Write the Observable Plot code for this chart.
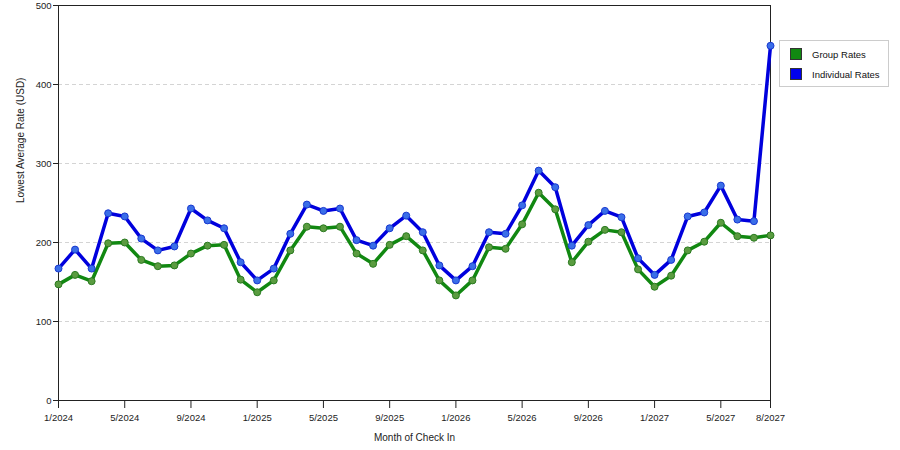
<!DOCTYPE html>
<html><head><meta charset="utf-8">
<script src="https://cdn.jsdelivr.net/npm/d3@7"></script>
<script src="https://cdn.jsdelivr.net/npm/@observablehq/plot@0.6"></script>
<style>
body{margin:0;background:#fff;font-family:"Liberation Sans",Arial,sans-serif;}
#wrap{position:relative;width:900px;height:450px;}
#legend{position:absolute;left:779px;top:40px;width:110px;height:47px;border:1px solid #ccc;background:#fff;font-size:9.5px;box-sizing:border-box;color:#111;}
#legend .item{position:absolute;left:10px;display:flex;align-items:center;}
#legend .sw{width:12px;height:12px;margin-right:10px;border:1px solid #333;box-sizing:border-box;}
</style></head><body>
<div id="wrap"><div id="chart"></div>
<div id="legend">
<div class="item" style="top:7px"><div class="sw" style="background:#118811"></div>Group Rates</div>
<div class="item" style="top:27px"><div class="sw" style="background:#0000ee"></div>Individual Rates</div>
</div></div>
<script>
const months = ["1/2024","2/2024","3/2024","4/2024","5/2024","6/2024","7/2024","8/2024","9/2024","10/2024","11/2024","12/2024",
"1/2025","2/2025","3/2025","4/2025","5/2025","6/2025","7/2025","8/2025","9/2025","10/2025","11/2025","12/2025",
"1/2026","2/2026","3/2026","4/2026","5/2026","6/2026","7/2026","8/2026","9/2026","10/2026","11/2026","12/2026",
"1/2027","2/2027","3/2027","4/2027","5/2027","6/2027","7/2027","8/2027"];
const individualRates = [167,191,167,237,233,205,190,195,243,228,218,175,
152,167,211,248,240,243,203,196,218,234,213,171,
152,170,213,211,247,291,270,196,222,240,232,180,
159,178,233,238,272,229,227,449];
const groupRates = [147,159,151,199,200,178,170,171,186,196,197,153,
137,152,190,220,218,220,186,173,197,208,190,152,
133,152,194,192,223,263,242,175,201,216,213,166,
144,158,190,201,225,208,206,209];
const xTickLabels = ["1/2024","5/2024","9/2024","1/2025","5/2025","9/2025","1/2026","5/2026","9/2026","1/2027","5/2027","8/2027"];
const yTicks = [0,100,200,300,400,500];

const ind = months.map((m,i)=>({i, v: individualRates[i]}));
const grp = months.map((m,i)=>({i, v: groupRates[i]}));
const xTicks = xTickLabels.map(l=>months.indexOf(l));

const chart = Plot.plot({
  width: 900, height: 450,
  marginLeft: 58, marginRight: 130, marginTop: 5, marginBottom: 50,
  style: {fontFamily: '"Liberation Sans", Arial, sans-serif', fontSize: "9.5px", background: "#fff", color: "#222"},
  x: {domain: [0, months.length-1], ticks: xTicks, tickFormat: i => months[i], tickSize: 8, label: null},
  y: {domain: [0, 500], ticks: yTicks, tickSize: 5, label: null},
  marks: [
    Plot.gridY([100,200,300,400], {stroke: "#d4d4d4", strokeOpacity: 1, strokeDasharray: "4,3"}),
    Plot.frame({stroke: "#222"}),
    Plot.axisX({ticks: xTicks, tickFormat: i => months[i], tickSize: 8, tickPadding: 6, label: null}),
    Plot.axisY({ticks: yTicks, tickSize: 5, tickPadding: 2, label: null}),
    Plot.text(["Month of Check In"], {frameAnchor: "bottom", dy: 40, fontSize: 10}),
    Plot.text(["Lowest Average Rate (USD)"], {frameAnchor: "left", dx: -38, rotate: -90, fontSize: 10}),
    Plot.line(grp, {x: "i", y: "v", stroke: "#118811", strokeWidth: 3.5}),
    Plot.dot(grp, {x: "i", y: "v", r: 3.5, fill: "#5a9c40", stroke: "#2a7a20", strokeWidth: 1}),
    Plot.line(ind, {x: "i", y: "v", stroke: "#0000dd", strokeWidth: 3.5}),
    Plot.dot(ind, {x: "i", y: "v", r: 3.5, fill: "#3a6ee8", stroke: "#1838d0", strokeWidth: 1})
  ]
});
document.getElementById("chart").appendChild(chart);
</script></body></html>
